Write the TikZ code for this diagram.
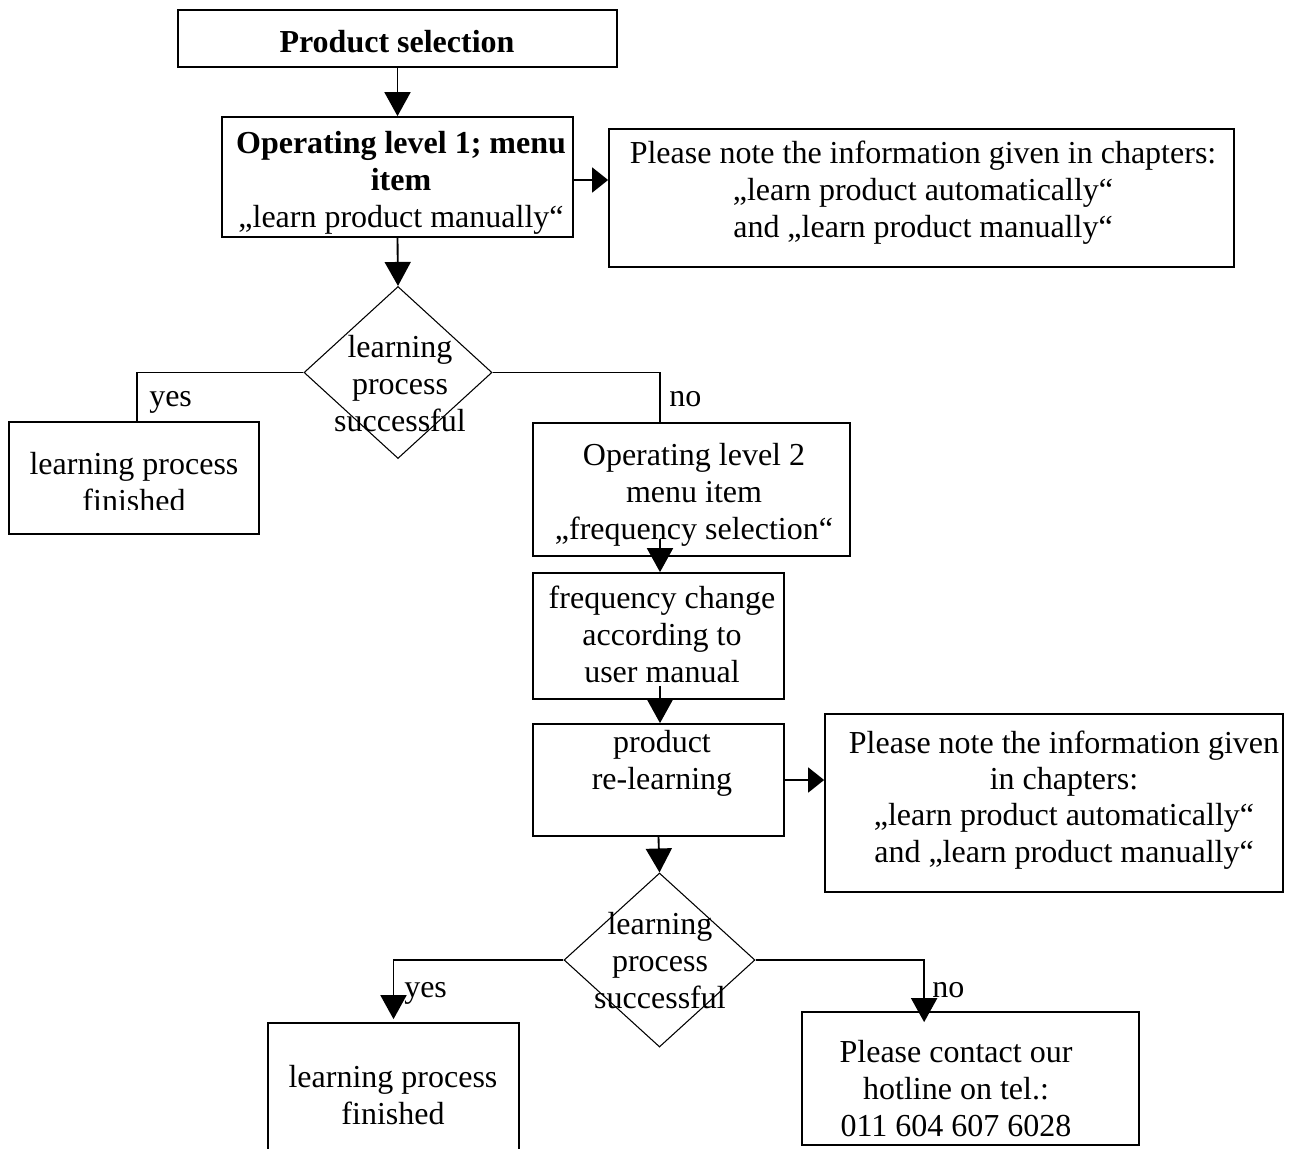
\documentclass[tikz,border=0pt]{standalone}
\usepackage{fontspec}
\setmainfont{Liberation Serif}
\usetikzlibrary{arrows.meta,shapes.geometric,calc}
\newcommand\mlines[1]{\begin{tabular}[t]{@{}c@{}}#1\end{tabular}}
\begin{document}
\begin{tikzpicture}[x=0.75pt,y=-0.75pt,
  box/.style={draw,line width=1.3pt,rectangle,inner sep=0pt},
  dia/.style={draw,line width=0.8pt,diamond,inner sep=0pt},
  txt/.style={inner sep=0pt,anchor=base,font=\fontsize{24}{27.75}\selectfont},
  lbl/.style={inner sep=0pt,anchor=base west,font=\fontsize{24}{27.75}\selectfont},
  varr/.style={line width=1.4pt,-{Triangle[length=18pt,width=19.5pt]}},
  harr/.style={line width=1.4pt,-{Triangle[length=12pt,width=18.75pt]}},
  conn/.style={line width=1pt}]
\clip (0,0) rectangle (1292,1149);
\fill[white] (0,0) rectangle (1292,1149);

% boxes
\node[box,minimum width=329.25pt,minimum height=42.75pt] (ps) at (397.5,38.5) {};
\node[box,minimum width=263.25pt,minimum height=90pt] (op1) at (397.5,177) {};
\node[box,minimum width=468.75pt,minimum height=103.5pt] (note1) at (921.5,198) {};
\node[dia,minimum width=141pt,minimum height=129pt] (d1) at (398,372.5) {};
\node[box,minimum width=187.5pt,minimum height=84pt] (fin1) at (134,478) {};
\node[box,minimum width=237.75pt,minimum height=99.75pt] (op2) at (691.5,489.5) {};
\node[box,minimum width=188.25pt,minimum height=94.5pt] (freq) at (658.5,636) {};
\node[box,minimum width=188.25pt,minimum height=84pt] (rel) at (658.5,780) {};
\node[box,minimum width=343.5pt,minimum height=133.5pt] (note2) at (1054,803) {};
\node[dia,minimum width=143.25pt,minimum height=130.5pt] (d2) at (659.5,960) {};
\node[box,minimum width=188.25pt,minimum height=132.75pt] (fin2) at (393.5,1111.5) {};
\node[box,minimum width=252.75pt,minimum height=99.75pt] (hot) at (970.5,1078.5) {};

% texts
\node[txt] (pst) at (397,53) {\textbf{Product selection}};
\node[txt] (op1t) at (401,153) {\mlines{\textbf{Operating level 1; menu}\\\textbf{item}\\„learn product manually“}};
\node[txt] (note1t) at (923,163) {\mlines{Please note the information given in chapters:\\„learn product automatically“\\and „learn product manually“}};
\node[txt] (d1t) at (400,357) {\mlines{learning\\process\\successful}};
\begin{scope}
\clip (9,422) rectangle (259,509);
\node[txt] (fin1t) at (134,474) {\mlines{learning process\\finished}};
\end{scope}
\node[txt] (op2t) at (694,465) {\mlines{Operating level 2\\menu item\\„frequency selection“}};
\node[txt] (freqt) at (662,608) {\mlines{frequency change\\according to\\user manual}};
\node[txt] (relt) at (662,752) {\mlines{product\\re-learning}};
\node[txt,font=\fontsize{24}{27.25}\selectfont] (note2t) at (1064,753) {\mlines{Please note the information given\\in chapters:\\„learn product automatically“\\and „learn product manually“}};
\node[txt] (d2t) at (660,934) {\mlines{learning\\process\\successful}};
\node[txt] (fin2t) at (393,1087) {\mlines{learning process\\finished}};
\node[txt] (hott) at (956,1062) {\mlines{Please contact our\\hotline on tel.:\\011 604 607 6028}};

% labels
\node[lbl] (yes1) at (149,406) {yes};
\node[lbl] (no1) at (669,406) {no};
\node[lbl] (yes2) at (404,997) {yes};
\node[lbl] (no2) at (932,997) {no};

% helper coordinates
\coordinate (op2out) at ($(freq.north |- op2.south)+(1.5,-18)$);
\coordinate (freqout) at ($(freq.south)+(1.5,-14)$);
\coordinate (freqin) at ($(freq.north)+(1.5,0)$);
\coordinate (relin) at ($(rel.north)+(1.5,0)$);
\coordinate (hotin) at ($(hot.north west)+(123,11)$);
\coordinate (op1out) at ($(op1.east)+(0,3)$);

% connectors
\draw[varr] (ps.south) -- (op1.north);
\draw[harr] (op1out) -- (op1out -| note1.west);
\draw[varr] (op1.south) -- (d1.north);
\draw[conn] (d1.west) -| ([xshift=2.25pt]fin1.north);
\draw[conn] (d1.east) -| (freqin |- op2.north);
\draw[varr] (op2out) -- (freqin);
\draw[varr] (freqout) -- (relin);
\draw[harr] (rel.east) -- (rel.east -| note2.west);
\draw[varr] (rel.south) -- (d2.north);
\draw[varr] (d2.west) -| ([yshift=2.25pt]fin2.north);
\draw[varr] (d2.east) -| (hotin);
\end{tikzpicture}
\end{document}
